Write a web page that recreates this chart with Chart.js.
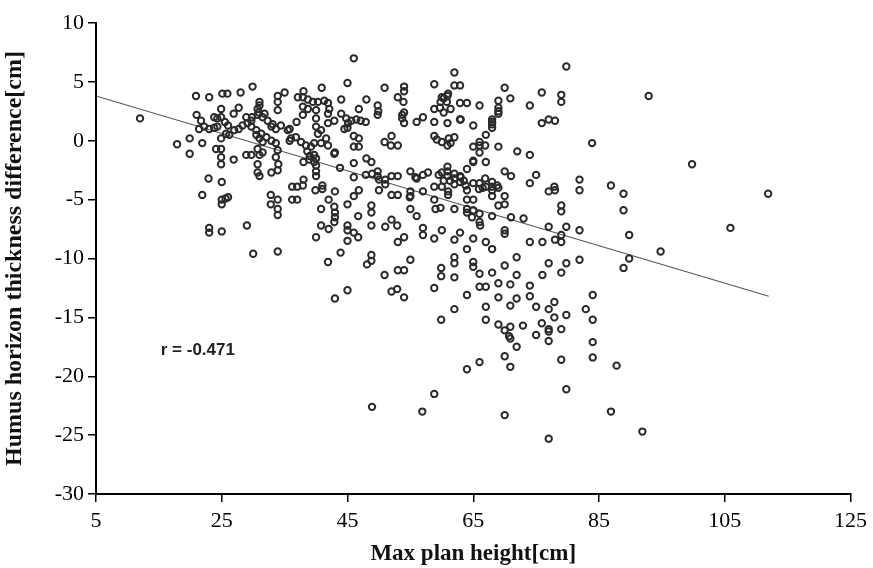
<!DOCTYPE html>
<html>
<head>
<meta charset="utf-8">
<script src="https://cdn.jsdelivr.net/npm/chart.js@4.4.0/dist/chart.umd.min.js"></script>
<style>
    html, body { margin: 0; padding: 0; background: #fff; }
    #wrap { width: 873px; height: 568px; }
</style>
</head>
<body>
<div id="wrap"><canvas id="scatterChart" width="873" height="568"></canvas></div>
<script>
// max plan height [cm] for each plot
const maxPlanHeight = [
    12, 17.9, 19.9, 20.9, 23, 21.9, 22.9, 23, 23, 25,
    25, 25, 25, 26, 25.1, 25.9, 28, 26.9, 29, 29.9,
    30, 33.9, 32.8, 32.8, 33.9, 33.9, 33.9, 36.2, 36.2, 37,
    37, 38, 40, 40.8, 41.9, 43, 45, 43.9, 45, 46.7,
    48.9, 48.1, 48.8, 48.8, 50.9, 52, 52.9, 53, 54, 54,
    55, 56.9, 57, 58.8, 58.8, 59.9, 59.9, 59.9, 62, 62,
    62, 62, 64, 64, 66, 65, 65, 66, 66, 67,
    67, 67, 68, 69, 69, 69, 70, 70, 70, 70.7,
    70.9, 70.9, 70, 70.9, 70.9, 70.9, 71.9, 71.9, 71.9, 71.9,
    72.9, 74, 74, 75, 75, 75.9, 76, 77, 77, 77,
    77, 77, 77, 77.9, 77.9, 79, 79, 79, 79.8, 79.8,
    79.8, 81.9, 82.9, 84, 84, 84, 84, 86.9, 87.8, 91.9,
    88.9, 89.8, 89.8, 88.9, 88.9, 86.9, 94.8, 99.8, 92.9, 105.9,
    111.9, 83.9, 79.8, 81.9, 81.9, 81.9, 79.8, 79, 79, 79,
    79, 78, 77, 78, 77, 76, 74, 73, 71, 70,
    70, 70, 70, 70, 71, 72, 74, 74, 75, 69,
    69, 68, 68, 68, 67, 66, 66, 65, 64, 62,
    62.9, 60, 58.8, 59, 57, 56, 55, 53, 54, 52,
    51, 48.8, 46.7, 45, 45, 46, 43, 42, 40.8, 52.9,
    46, 45, 40.9, 44, 35, 38, 33.9, 33.9, 31, 31,
    50.9, 54, 54, 53, 48, 49.8, 49.8, 46.8, 54, 54,
    56, 57, 50.9, 52, 53, 58.8, 58.8, 59.7, 60, 60.9,
    62, 62, 62.9, 61, 62.9, 64, 62.9, 60.9, 58.8, 58.8,
    60, 60.9, 62, 66, 65, 68, 68, 69, 69, 69,
    70, 70.9, 74, 75.9, 77, 78, 75.9, 79, 79, 67,
    66, 66, 65, 66, 67, 65, 69, 46, 46, 46.8,
    46.8, 46, 48, 48.8, 43.8, 43, 49.8, 49.8, 51, 51,
    50, 52, 53, 52, 53, 48.8, 48.8, 46.8, 46, 45,
    43, 42, 41, 41, 40, 40, 40, 39, 40, 38,
    55, 55, 55, 57, 57.8, 56, 58.8, 60, 58.8, 60,
    60.9, 60.9, 60.9, 62, 62.9, 62.9, 64, 64, 65, 66,
    65, 67, 68, 68, 68, 64, 65, 64, 65, 62,
    61, 57, 61, 33.9, 24.9, 24.9, 26.9, 27.7, 21, 21.7,
    21.4, 22.2, 23, 23.8, 24.3, 23.8, 24.3, 25.7, 26.2, 24.9,
    19.9, 21.9, 24.1, 24.9, 24.9, 24.9, 28.9, 29.7, 27, 27.7,
    28.3, 29.1, 29.7, 28.9, 29.8, 30.7, 31.5, 32.3, 33.1, 30.7,
    30.9, 31.8, 29.7, 30.5, 31.3, 32.1, 32.9, 33.6, 30.5, 31,
    31.5, 32.9, 33.6, 34.4, 30.7, 31.5, 31, 30.7, 30.7, 31,
    32.9, 33.6, 34, 35.5, 35.8, 33.9, 33.9, 26, 25.5, 53.9,
    60.3, 59.8, 60.8, 61.4, 60.3, 37.1, 37.9, 38.7, 39.5, 40.3,
    41.3, 41.9, 42.1, 41.9, 37.9, 38.7, 37.9, 40, 40, 44,
    44.8, 45.6, 46.4, 47.1, 47.9, 45.1, 42.9, 41.9, 44.5, 45,
    53.7, 53.7, 49.9, 35.8, 36.9, 36, 36.8, 37.6, 38.4, 39.2,
    39.7, 38.6, 39.7, 40, 40.8, 40.3, 41.6, 40.8, 41.9, 38.9,
    39.7, 42.9, 51.9, 46, 47.9, 48.9, 50, 55.8, 59.5, 60.3,
    61.3, 61.1, 61.4, 59.2, 69, 68, 68, 63, 66.9, 62,
    63, 63.5, 66.9, 68.8, 77.9, 25.6, 37.9, 39.9, 42.9, 42.9,
    62, 63.8, 65.9, 66.5, 64.8, 66.1, 64, 43, 54.9, 59.8
];

// humus horizon thickness difference [cm], same order
const humusDiff = [
    1.9, -0.3, -1.1, 3.8, 3.7, -4.6, -3.2, -7.4, -7.8, -7.7,
    -3.5, -5.4, -5.0, -4.8, 4.0, 4.0, 4.1, -1.6, -7.2, 4.6,
    -9.6, -9.4, -4.6, -5.4, -5.0, -5.8, -6.3, -3.9, -5.0, -5.0,
    -3.9, -3.3, -8.2, -7.2, -10.3, -13.4, -12.7, -9.5, -8.5, -8.2,
    -22.6, -10.5, -10.2, -9.7, -11.4, -12.8, -12.6, -11.0, -11.0, -13.3,
    -10.1, -23.0, -7.4, -21.5, -12.5, -15.2, -10.8, -11.5, -14.3, -9.9,
    -10.4, -11.6, -19.4, -13.1, -18.8, -10.3, -10.7, -12.4, -11.3, -14.1,
    -15.2, -12.4, -11.2, -13.3, -12.1, -15.6, -23.3, -18.3, -16.1, -16.6,
    -15.8, -16.8, -10.6, -14.0, -12.2, -19.2, -17.5, -13.4, -11.4, -9.9,
    -15.7, -12.3, -13.2, -14.1, -16.5, -15.5, -11.4, -14.3, -16.0, -16.2,
    -17.0, -25.3, -10.4, -13.7, -15.0, -18.6, -16.0, -11.2, -14.8, -21.1,
    -10.4, -10.1, -14.3, -13.1, -15.2, -17.1, -18.4, -23.0, -19.1, -24.7,
    -10.8, -10.0, -8.0, -5.9, -4.5, -3.8, -9.4, -2.0, 3.8, -7.4,
    -4.5, -0.2, 6.3, -3.3, -4.2, -7.6, -7.3, -5.5, -6.0, -8.6,
    -8.0, -4.2, -4.3, -8.4, -7.3, -8.6, -8.6, -6.6, -6.5, -7.6,
    -7.9, -5.4, -4.7, -2.6, -3.0, -0.9, -1.2, -3.6, -2.9, -5.5,
    -4.0, -9.2, -6.4, -3.5, -8.6, -6.9, -6.2, -8.3, -9.2, -8.4,
    -7.8, -7.6, -8.3, -5.8, -8.0, -6.4, -5.8, -8.6, -8.2, -6.7,
    -7.3, -7.2, -6.4, -7.2, -7.6, -7.8, -6.1, -7.5, -5.8, -7.2,
    7.0, 4.9, 4.5, 3.5, 4.1, 4.2, 3.8, 3.3, 3.3, 3.0,
    4.5, 4.6, 4.2, 3.7, 3.5, 3.0, 2.2, 2.7, 2.4, 1.5,
    1.6, 2.0, -0.1, 0.4, -0.4, 4.8, 2.7, 2.8, 3.7, 3.8,
    5.8, 4.7, 4.7, 4.0, 3.2, 3.2, 1.8, 1.5, 1.6, 0.4,
    -0.1, -0.4, 0.3, 3.0, 1.3, 1.6, 1.1, 2.5, 2.3, 3.4,
    4.5, 3.6, 3.0, 4.1, 1.8, 1.7, 1.5, 3.9, 3.3, 0.5,
    -0.1, -0.4, -0.5, -1.0, -1.8, -1.8, -0.5, 0.4, -0.5, -0.5,
    0.2, -1.9, -1.5, -1.8, -2.3, -1.0, -2.6, -3.0, -3.3, -3.7,
    -4.2, -3.0, -3.0, -4.6, -4.6, -5.5, -6.1, -4.2, -4.7, -5.4,
    -4.3, -5.0, -3.8, -4.1, -2.1, -2.6, -3.0, -1.3, -1.5, -1.8,
    -4.3, -4.7, -2.6, -2.9, -2.7, -3.2, -3.9, -3.9, -5.0, -2.7,
    -2.6, -2.2, -3.0, -3.2, -3.0, -3.5, -2.4, -4.2, -3.6, -3.6,
    -1.7, -3.9, -3.9, -4.2, -4.7, -5.0, -5.0, -5.8, -5.9, -5.8,
    -4.3, -4.3, -4.6, 2.6, 2.7, 2.0, 2.3, 2.8, 2.2, 1.7,
    1.0, 1.2, 1.0, 1.1, 1.2, 2.0, 1.9, 0.6, 0.5, 0.2,
    0.2, -0.2, -0.7, -0.7, -1.4, -2.0, -1.2, -1.2, 0.9, 1.0,
    1.3, 1.5, 1.7, 2.0, 2.0, 2.2, 2.0, 1.7, 1.4, 2.7,
    2.4, 2.3, 1.2, 0.9, 0.6, 0.3, 0.0, -0.2, 0.5, 0.2,
    -0.1, 1.2, 1.0, 1.3, -0.7, -1.0, -1.2, -2.0, -2.7, -3.0,
    -2.7, -1.4, -2.0, 0.9, 0.0, -2.5, -0.8, 1.3, 1.6, 3.3,
    3.6, 3.3, 3.3, 2.7, 2.4, 3.7, 3.7, 3.5, 3.3, 3.3,
    3.4, 3.2, 2.7, 2.3, 2.9, 2.7, 2.2, 2.6, 1.9, 2.3,
    1.9, 1.7, 1.8, 1.7, 1.6, 1.5, 1.7, 1.5, 1.0, 1.1,
    2.2, 1.9, 2.5, 1.0, 1.6, 0.2, 0.3, -0.1, -0.4, -0.5,
    -0.2, -0.9, -1.2, 1.2, 0.9, 0.6, 0.2, -0.2, -0.4, -1.6,
    -1.8, -1.1, -0.4, -3.1, -2.9, -2.8, -3.3, -3.1, -2.9, -3.4,
    -3.4, 0.2, -0.2, 0.1, 2.8, 1.8, 1.4, 1.8, -0.4, -2.8,
    -3.1, -3.4, -3.2, -3.8, -3.9, -4.9, -3.8, -4.2, -5.6, -6.9,
    -3.7, -3.8, -4.1, -4.0, -6.5, -7.2, -6.1, -6.5, -4.8, -5.7
];

// fitted line end points as drawn in the figure
const trendX = [5, 112];
const trendY = [3.8, -13.2];

const xTicks = [5, 25, 45, 65, 85, 105, 125];
const yTicks = [-30, -25, -20, -15, -10, -5, 0, 5, 10];
const rLabel = 'r = -0.471';

const serif = "'Liberation Serif', 'Times New Roman', serif";

const points = maxPlanHeight.map((x, i) => ({ x: x, y: humusDiff[i] }));
const trend = trendX.map((x, i) => ({ x: x, y: trendY[i] }));

// writes the correlation coefficient inside the plot
const rLabelPlugin = {
    id: 'rLabel',
    afterDatasetsDraw(chart) {
        const { ctx, scales: { x, y } } = chart;
        ctx.save();
        ctx.font = "bold 17px 'Liberation Sans', Arial, sans-serif";
        ctx.fillStyle = '#222';
        ctx.textBaseline = 'middle';
        ctx.fillText(rLabel, x.getPixelForValue(15.3), y.getPixelForValue(-17.8));
        ctx.restore();
    }
};

new Chart(document.getElementById('scatterChart'), {
    type: 'scatter',
    data: {
        datasets: [
            {
                label: 'plots',
                data: points,
                pointStyle: 'circle',
                pointRadius: 3.2,
                pointBorderWidth: 2,
                borderColor: '#2a2a2a',
                backgroundColor: 'rgba(255,255,255,0)'
            },
            {
                type: 'line',
                label: 'trend',
                data: trend,
                borderColor: '#555',
                borderWidth: 1.1,
                pointRadius: 0,
                fill: false
            }
        ]
    },
    options: {
        responsive: false,
        animation: false,
        layout: { padding: { top: 23, right: 20, bottom: 0, left: 0 } },
        plugins: {
            legend: { display: false },
            tooltip: { enabled: false }
        },
        scales: {
            x: {
                type: 'linear',
                min: 5,
                max: 125,
                afterBuildTicks: s => { s.ticks = xTicks.map(v => ({ value: v })); },
                afterFit: s => { s.height = 74; },
                ticks: { color: '#000', font: { family: serif, size: 22 }, padding: 6 },
                grid: { drawOnChartArea: false, drawTicks: true, tickLength: 8, color: '#000', lineWidth: 1.5 },
                border: { display: true, color: '#000', width: 2 },
                title: {
                    display: true,
                    text: 'Max plan height[cm]',
                    color: '#111',
                    font: { family: serif, size: 23, weight: 'bold' },
                    padding: { top: 0, bottom: 0 }
                }
            },
            y: {
                type: 'linear',
                min: -30,
                max: 10,
                afterBuildTicks: s => { s.ticks = yTicks.map(v => ({ value: v })); },
                afterFit: s => { s.width = 96; },
                ticks: { color: '#000', font: { family: serif, size: 22 }, padding: 4 },
                grid: { drawOnChartArea: false, drawTicks: true, tickLength: 8, color: '#000', lineWidth: 1.5 },
                border: { display: true, color: '#000', width: 2 },
                title: {
                    display: true,
                    text: 'Humus horizon thickness difference[cm]',
                    color: '#111',
                    font: { family: serif, size: 24, weight: 'bold' },
                    padding: { top: 0, bottom: 0 }
                }
            }
        }
    },
    plugins: [rLabelPlugin]
});
</script>
</body>
</html>
